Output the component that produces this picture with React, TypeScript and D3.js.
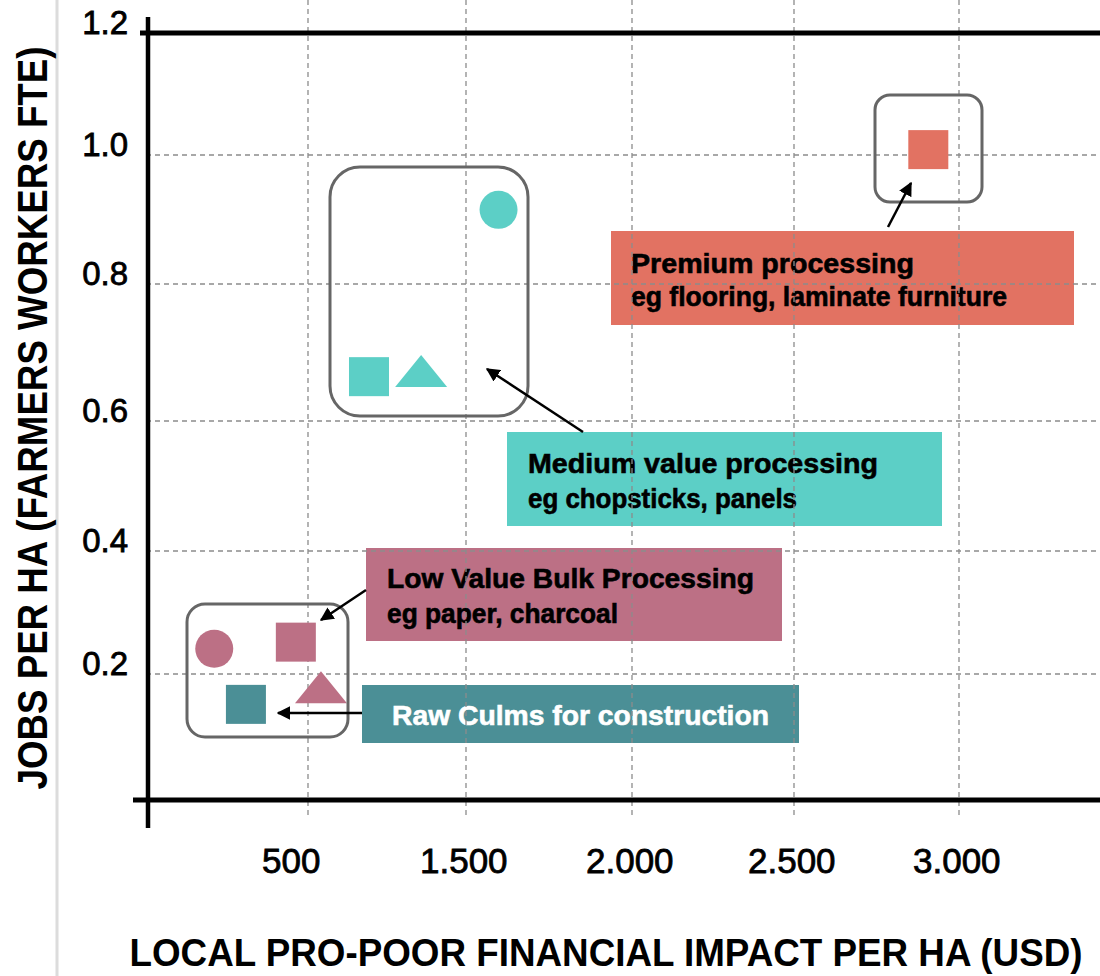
import React from "react";
import * as d3 from "d3";

// ---------- data ----------
const xTickValues = [1000, 1500, 2000, 2500, 3000];
const xTickLabels = ["500", "1.500", "2.000", "2.500", "3.000"];
const yTickValues = [0.2, 0.4, 0.6, 0.8, 1.0, 1.2];
const yTickLabels = ["0.2", "0.4", "0.6", "0.8", "1.0", "1.2"];

// Low value bulk processing (pink)
const lowX = [707, 962, 1041];
const lowY = [0.241, 0.251, 0.179];
const lowShapes = ["circle", "square", "triangle"];
// Raw culms (dark teal)
const rawX = [806];
const rawY = [0.151];
const rawShapes = ["square"];
// Medium value processing (teal)
const medX = [1598, 1193, 1358];
const medY = [0.915, 0.664, 0.673];
const medShapes = ["circle", "square", "triangle"];
// Premium processing (salmon)
const premX = [2907];
const premY = [1.008];
const premShapes = ["square"];

const xTitle = "LOCAL PRO-POOR FINANCIAL IMPACT PER HA (USD)";
const yTitle = "JOBS PER HA (FARMERS WORKERS FTE)";

// ---------- styles / layout ----------
const W = 1100;
const H = 976;
const C_PINK = "#BC7085";
const C_RAW = "#4B8F96";
const C_MED = "#5CCFC6";
const C_PREM = "#E27262";
const NARROW = "'Liberation Sans Narrow', 'Arial Narrow', 'Liberation Sans', sans-serif";
const SANS = "'Liberation Sans', Arial, sans-serif";

// axis calibration (chart is slightly non-uniform)
const x = d3
  .scaleLinear()
  .domain([500, 1000, 1500, 2000, 2500, 3000])
  .range([148, 308, 466, 632, 794, 959]);
const y = d3
  .scaleLinear()
  .domain([0, 0.2, 0.4, 0.6, 0.8, 1.0, 1.2])
  .range([800, 674, 551, 421, 284, 155, 33]);

const series = [
  { xs: lowX, ys: lowY, shapes: lowShapes, color: C_PINK },
  { xs: rawX, ys: rawY, shapes: rawShapes, color: C_RAW },
  { xs: medX, ys: medY, shapes: medShapes, color: C_MED },
  { xs: premX, ys: premY, shapes: premShapes, color: C_PREM },
];

const labelBoxes = [
  {
    x0: 611, y0: 231, x1: 1074, y1: 325, fill: C_PREM, textColor: "#000",
    lines: [
      { t: "Premium processing", x: 631, y: 273, w: 283, fs: 28 },
      { t: "eg flooring, laminate furniture", x: 631, y: 306, w: 376, fs: 27 },
    ],
  },
  {
    x0: 507, y0: 432, x1: 942, y1: 526, fill: C_MED, textColor: "#000",
    lines: [
      { t: "Medium value processing", x: 528, y: 473, w: 350, fs: 28 },
      { t: "eg chopsticks, panels", x: 528, y: 508, w: 269, fs: 27 },
    ],
  },
  {
    x0: 366, y0: 548, x1: 782, y1: 641, fill: C_PINK, textColor: "#000",
    lines: [
      { t: "Low Value Bulk Processing", x: 387, y: 588, w: 367, fs: 28 },
      { t: "eg paper, charcoal", x: 387, y: 623, w: 231, fs: 27 },
    ],
  },
  {
    x0: 362, y0: 685, x1: 799, y1: 743, fill: C_RAW, textColor: "#fff",
    lines: [{ t: "Raw Culms for construction", x: 392, y: 725, w: 377, fs: 28 }],
  },
];

const groupBoxes = [
  { x0: 187, y0: 604, x1: 348, y1: 737, r: 18 },
  { x0: 330, y0: 167, x1: 528, y1: 416, r: 30 },
  { x0: 875, y0: 95, x1: 982, y1: 202, r: 15 },
];

const arrows = [
  { x1: 888, y1: 227, x2: 911, y2: 183 },
  { x1: 583, y1: 432, x2: 487, y2: 369 },
  { x1: 366, y1: 590, x2: 321, y2: 620 },
  { x1: 362, y1: 713, x2: 278, y2: 713 },
];

const SQ = 40;
const CR = 19;
const TW = 52;
const TH = 32;

function Marker({ shape, cx, cy, color }: { shape: string; cx: number; cy: number; color: string }) {
  if (shape === "circle") return <circle cx={cx} cy={cy} r={CR} fill={color} />;
  if (shape === "square")
    return <rect x={cx - SQ / 2} y={cy - SQ / 2} width={SQ} height={SQ - 1} fill={color} />;
  const p = d3.path();
  p.moveTo(cx, cy - TH / 2);
  p.lineTo(cx + TW / 2, cy + TH / 2);
  p.lineTo(cx - TW / 2, cy + TH / 2);
  p.closePath();
  return <path d={p.toString()} fill={color} />;
}

export default function App() {
  const gridColor = "#8c8c8c";
  return (
    <svg
      width={W}
      height={H}
      viewBox={`0 0 ${W} ${H}`}
      style={{ position: "absolute", left: 0, top: 0, background: "#fff" }}
    >
      <defs>
        <marker id="ah" viewBox="0 0 10 10" refX="9" refY="5" markerWidth="5.5" markerHeight="5.5" orient="auto" markerUnits="strokeWidth">
          <path d="M0,0 L10,5 L0,10 z" fill="#000" />
        </marker>
      </defs>
      <rect x={0} y={0} width={W} height={H} fill="#fff" />
      {/* left edge light line */}
      <line x1={57} x2={57} y1={0} y2={H} stroke="#dcdcdc" strokeWidth={3} />

      {/* label boxes */}
      {labelBoxes.map((b, i) => (
        <g key={"lb" + i}>
          <rect x={b.x0} y={b.y0} width={b.x1 - b.x0} height={b.y1 - b.y0} fill={b.fill} />
          {b.lines.map((l, j) => (
            <text
              key={j}
              x={l.x}
              y={l.y}
              fontFamily={NARROW}
              fontWeight="bold"
              fontSize={l.fs}
              fill={b.textColor}
              stroke={b.textColor}
              strokeWidth={0.6}
              textLength={l.w}
              lengthAdjust="spacingAndGlyphs"
            >
              {l.t}
            </text>
          ))}
        </g>
      ))}

      {/* gridlines */}
      {xTickValues.map((v) => (
        <line key={"gx" + v} x1={x(v)} x2={x(v)} y1={0} y2={815} stroke={gridColor} strokeWidth={1.3} strokeDasharray="5,4" />
      ))}
      {yTickValues.slice(0, 5).map((v) => (
        <line key={"gy" + v} x1={146} x2={W} y1={y(v)} y2={y(v)} stroke={gridColor} strokeWidth={1.3} strokeDasharray="5,4" />
      ))}

      {/* axes */}
      <line x1={148} x2={148} y1={17} y2={828} stroke="#000" strokeWidth={4.5} />
      <line x1={140} x2={W} y1={y(1.2)} y2={y(1.2)} stroke="#000" strokeWidth={5} />
      <line x1={133} x2={W} y1={y(0)} y2={y(0)} stroke="#000" strokeWidth={5} />

      {/* markers */}
      {series.map((s, si) =>
        s.xs.map((xv, i) => (
          <Marker key={`m${si}-${i}`} shape={s.shapes[i]} cx={x(xv)} cy={y(s.ys[i])} color={s.color} />
        ))
      )}

      {/* group boxes */}
      {groupBoxes.map((g, i) => (
        <rect key={"gb" + i} x={g.x0} y={g.y0} width={g.x1 - g.x0} height={g.y1 - g.y0} rx={g.r} ry={g.r} fill="none" stroke="#666" strokeWidth={3} />
      ))}

      {/* arrows */}
      {arrows.map((a, i) => (
        <line key={"ar" + i} x1={a.x1} y1={a.y1} x2={a.x2} y2={a.y2} stroke="#000" strokeWidth={2.5} markerEnd="url(#ah)" />
      ))}

      {/* tick labels */}
      {yTickValues.map((v, i) => (
        <text key={"yl" + v} x={128} y={y(v) + 1} textAnchor="end" fontFamily={SANS} fontSize={33} fill="#000" stroke="#000" strokeWidth={0.8}>
          {yTickLabels[i]}
        </text>
      ))}
      {xTickValues.map((v, i) => (
        <text key={"xl" + v} x={x(v) - 46} y={873} textAnchor="start" fontFamily={SANS} fontSize={35} fill="#000" stroke="#000" strokeWidth={0.8}>
          {xTickLabels[i]}
        </text>
      ))}

      {/* axis titles */}
      <text
        x={606}
        y={966}
        textAnchor="middle"
        fontFamily={NARROW}
        fontWeight="bold"
        fontSize={39}
        fill="#000"
        textLength={953}
        lengthAdjust="spacingAndGlyphs"
      >
        {xTitle}
      </text>
      <text
        transform="translate(47,418) rotate(-90)"
        textAnchor="middle"
        fontFamily={NARROW}
        fontWeight="bold"
        fontSize={43}
        fill="#000"
        textLength={743}
        lengthAdjust="spacingAndGlyphs"
      >
        {yTitle}
      </text>
    </svg>
  );
}
